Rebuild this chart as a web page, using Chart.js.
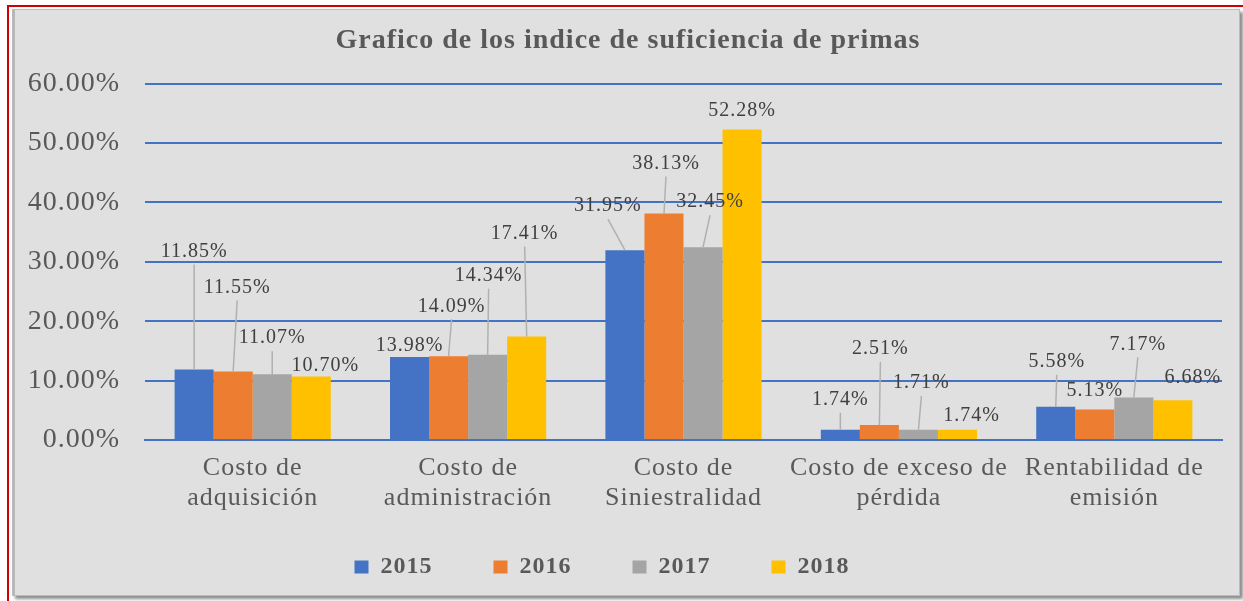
<!DOCTYPE html>
<html lang="es">
<head>
<meta charset="UTF-8">
<title>Grafico de los indice de suficiencia de primas</title>
<script src="https://cdn.jsdelivr.net/npm/chart.js@4.4.1/dist/chart.umd.min.js"></script>
<style>
  body {
    margin: 0;
    background: #fff;
  }
  .wrap {
    position: relative;
    width: 1243px;
    height: 601px;
    overflow: hidden;
  }
  .red-frame {
    position: absolute;
    left: 7px;
    top: 5px;
    right: 0;
    bottom: 0;
    border-left: 2px solid #d00000;
    border-top: 2px solid #d00000;
  }
  .panel {
    position: absolute;
    left: 12px;
    top: 9px;
    width: 1224px;
    height: 585px;
    background: #e0e0e0;
    border: 1px solid #bcbcbc;
    border-left: 3px solid #b8b8b8;
    box-shadow: 3px 3px 3px #8c8c8c;
  }
  #chart {
    position: absolute;
    left: 0;
    top: 0;
  }
</style>
</head>
<body>
<div class="wrap">
  <div class="red-frame"></div>
  <div class="panel"></div>
  <canvas id="chart" width="1243" height="601"></canvas>
</div>
<script>
const categories = [
  ["Costo de", "adquisición"],
  ["Costo de", "administración"],
  ["Costo de", "Siniestralidad"],
  ["Costo de exceso de", "pérdida"],
  ["Rentabilidad de", "emisión"],
];
const years = ["2015", "2016", "2017", "2018"];
const values2015 = [11.85, 13.98, 31.95, 1.74, 5.58];
const values2016 = [11.55, 14.09, 38.13, 2.51, 5.13];
const values2017 = [11.07, 14.34, 32.45, 1.71, 7.17];
const values2018 = [10.7, 17.41, 52.28, 1.74, 6.68];
const yTicks = [0, 10, 20, 30, 40, 50, 60];

const colors = ["#4472c4", "#ed7d31", "#a5a5a5", "#ffc000"];
const serif = '"Times New Roman", "Liberation Serif", serif';

// where each label was dragged to, relative to its bar top (px)
const labelShift = [
  [[0, -118], [0, -11], [-17, -44], [0, -30], [1, -45]],
  [[4, -84], [3, -50], [2, -50], [1, -76], [0, -19]],
  [[0, -36], [1, -79], [7, -45], [3, -47], [4, -53]],
  [[14, -11], [-2, -103], [0, -19], [14, -14], [20, -23]],
];

const seriesValues = [values2015, values2016, values2017, values2018];

// Wide Excel-style lettering (the canvas resets it on resize)
const spacing = {
  id: "spacing",
  beforeUpdate(chart) {
    chart.ctx.letterSpacing = "1px";
  },
  beforeDraw(chart) {
    chart.ctx.letterSpacing = "1px";
  },
};

// Data labels with leader lines
const dataLabels = {
  id: "dataLabels",
  afterDatasetsDraw(chart) {
    const ctx = chart.ctx;
    ctx.save();
    ctx.font = `20px ${serif}`;
    ctx.textAlign = "center";
    ctx.textBaseline = "middle";
    chart.data.datasets.forEach((ds, i) => {
      chart.getDatasetMeta(i).data.forEach((bar, j) => {
        const [dx, dy] = labelShift[i][j];
        const lx = bar.x + dx;
        const ly = bar.y + dy;
        if (-dy > 26) {
          ctx.strokeStyle = "#b0b0b0";
          ctx.lineWidth = 1.5;
          ctx.beginPath();
          ctx.moveTo(lx, ly + 13);
          ctx.lineTo(bar.x, bar.y);
          ctx.stroke();
        }
        ctx.fillStyle = "#404040";
        ctx.fillText(ds.data[j].toFixed(2) + "%", lx, ly);
      });
    });
    ctx.restore();
  },
};

// Title and legend sit a bit off the plot centre in the original,
// and the two-line category labels run below the axis box
const nudge = {
  id: "nudge",
  afterLayout(chart) {
    chart.titleBlock.left += 11;
    chart.titleBlock.right += 11;
    chart.legend.left -= 15;
    chart.legend.right -= 15;
    const x = chart.scales.x;
    x.bottom = x.top + 85;
  },
};

document.addEventListener("DOMContentLoaded", () => {
  const ctx = document.getElementById("chart").getContext("2d");

  new Chart(ctx, {
    type: "bar",
    data: {
      labels: categories,
      datasets: years.map((year, i) => ({
        label: year,
        data: seriesValues[i],
        backgroundColor: colors[i],
        borderWidth: 0,
        categoryPercentage: 0.725,
        barPercentage: 1,
      })),
    },
    options: {
      responsive: false,
      animation: false,
      layout: {
        padding: { top: 9, left: 12, right: 21, bottom: 12 },
      },
      plugins: {
        title: {
          display: true,
          text: "Grafico de los indice de suficiencia de primas",
          color: "#595959",
          font: { family: serif, size: 28, weight: "bold" },
          padding: { top: 15, bottom: 26 },
        },
        legend: {
          position: "bottom",
          labels: {
            boxWidth: 14,
            boxHeight: 13,
            padding: 61,
            color: "#595959",
            font: { family: serif, size: 24, weight: "bold" },
          },
        },
        tooltip: { enabled: false },
      },
      scales: {
        x: {
          grid: { display: false, drawTicks: false },
          border: { color: "#4472c4", width: 2 },
          ticks: {
            color: "#595959",
            font: { family: serif, size: 26, lineHeight: 1.15 },
            padding: 13,
            maxRotation: 0,
            autoSkip: false,
          },
          afterFit(scale) {
            scale.height = 54;
          },
        },
        y: {
          min: yTicks[0],
          max: yTicks[yTicks.length - 1],
          afterBuildTicks(scale) {
            scale.ticks = yTicks.map((v) => ({ value: v }));
          },
          ticks: {
            callback: (v) => v.toFixed(2) + "%",
            padding: 25,
            color: "#595959",
            font: { family: serif, size: 28 },
          },
          grid: { color: "#4472c4", lineWidth: 2, drawTicks: false },
          border: { display: false },
          afterFit(scale) {
            scale.width = 133;
          },
        },
      },
    },
    plugins: [spacing, dataLabels, nudge],
  });
});
</script>
</body>
</html>
